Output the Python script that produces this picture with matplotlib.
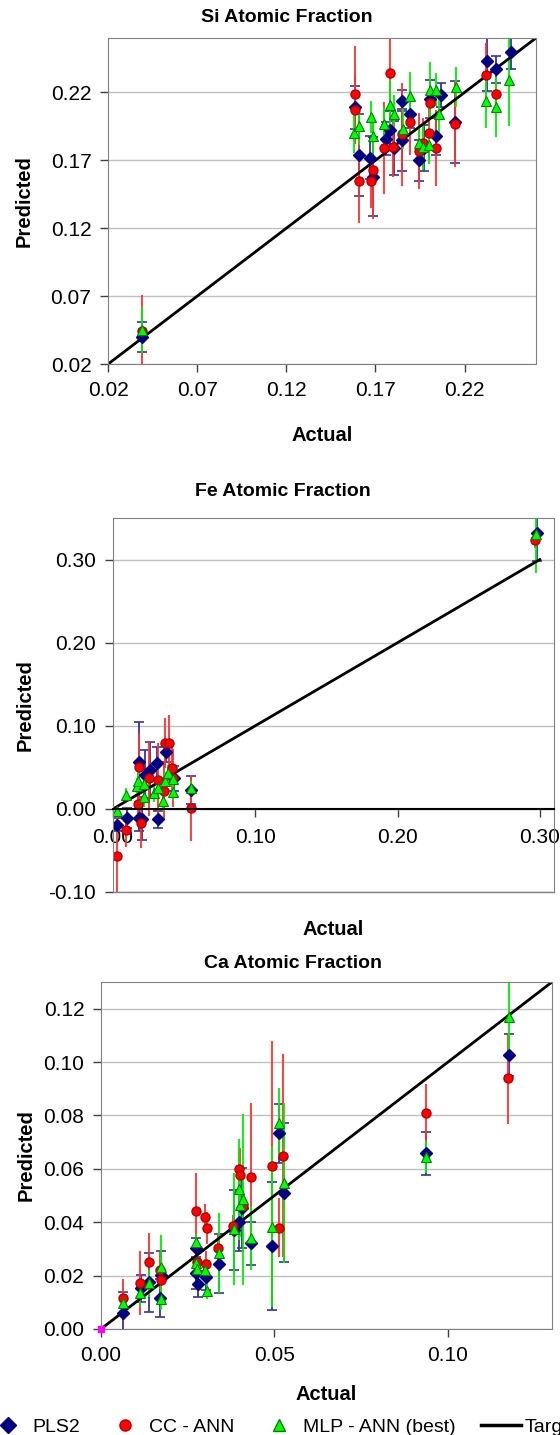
import numpy as np
import matplotlib.pyplot as plt
from matplotlib.lines import Line2D

plt.rcParams['font.family'] = ['Liberation Sans', 'DejaVu Sans']
plt.rcParams['axes.unicode_minus'] = False

#%%---------------------------------------------------------------- Si
si_pls_x = [0.039, 0.1587, 0.1606, 0.1672, 0.1685, 0.1760, 0.1784, 0.1803, 0.1849, 0.1849,
            0.1893, 0.1943, 0.1971, 0.2005, 0.2037, 0.2065, 0.2145, 0.2323, 0.2374, 0.2458]
si_pls_y = [0.040, 0.209, 0.174, 0.172, 0.158, 0.186, 0.192, 0.179, 0.214, 0.185,
            0.204, 0.170, 0.179, 0.215, 0.188, 0.218, 0.198, 0.243, 0.237, 0.250]
si_pls_e = [0.011, 0.016, 0.030, 0.016, 0.029, 0.012, 0.014, 0.020, 0.008, 0.023,
            0.010, 0.015, 0.017, 0.014, 0.014, 0.009, 0.030, 0.022, 0.010, 0.013]

si_cc_x = [0.039, 0.1587, 0.1584, 0.1606, 0.1675, 0.1685, 0.1746, 0.1784, 0.1799, 0.1849,
           0.1896, 0.1943, 0.1967, 0.1999, 0.2005, 0.2037, 0.2145, 0.2318, 0.2374]
si_cc_y = [0.044, 0.219, 0.207, 0.155, 0.155, 0.163, 0.179, 0.234, 0.180, 0.189,
           0.198, 0.177, 0.183, 0.190, 0.212, 0.179, 0.197, 0.233, 0.219]
si_cc_e = [0.027, 0.035, 0.025, 0.031, 0.020, 0.036, 0.034, 0.030, 0.022, 0.038,
           0.024, 0.028, 0.018, 0.020, 0.012, 0.028, 0.032, 0.023, 0.010]

si_mlp_x = [0.039, 0.1582, 0.1606, 0.1675, 0.1685, 0.1750, 0.1784, 0.1803, 0.1855, 0.1896,
            0.1943, 0.1967, 0.1999, 0.2005, 0.2037, 0.2059, 0.2149, 0.2318, 0.2374, 0.2449]
si_mlp_y = [0.045, 0.190, 0.195, 0.202, 0.188, 0.197, 0.211, 0.204, 0.193, 0.217,
            0.183, 0.180, 0.181, 0.222, 0.222, 0.204, 0.224, 0.214, 0.209, 0.229]
si_mlp_e = [0.017, 0.015, 0.014, 0.012, 0.015, 0.012, 0.018, 0.014, 0.015, 0.018,
            0.012, 0.017, 0.014, 0.020, 0.012, 0.015, 0.015, 0.020, 0.022, 0.034]

#%%---------------------------------------------------------------- Fe
fe_pls_x = [0.0026, 0.0096, 0.0182, 0.0201, 0.0185, 0.0225, 0.0260, 0.0307, 0.0318, 0.0376,
            0.0431, 0.0547, 0.2978]
fe_pls_y = [-0.019, -0.0105, -0.011, -0.012, 0.056, 0.041, 0.047, 0.055, -0.0125, 0.069,
            0.037, 0.0225, 0.332]
fe_pls_e = [0.008, 0.012, 0.015, 0.026, 0.048, 0.030, 0.034, 0.020, 0.010, 0.012,
            0.015, 0.017, 0.034]

fe_cc_x = [0.0026, 0.0089, 0.0173, 0.0183, 0.0197, 0.0253, 0.0314, 0.0365, 0.0396, 0.0360,
           0.0412, 0.0424, 0.0547, 0.2966]
fe_cc_y = [-0.0566, -0.0257, 0.0057, 0.051, -0.0167, 0.037, 0.0348, 0.079, 0.079, 0.0217,
           0.0498, 0.037, 0.0008, 0.324]
fe_cc_e = [0.050, 0.020, 0.025, 0.040, 0.030, 0.045, 0.045, 0.030, 0.034, 0.035,
           0.030, 0.035, 0.040, 0.010]

fe_mlp_x = [0.0026, 0.0089, 0.0171, 0.0178, 0.022, 0.022, 0.0290, 0.0318, 0.0353, 0.0365,
            0.0388, 0.0424, 0.0424, 0.0547, 0.297]
fe_mlp_y = [-0.002, 0.017, 0.027, 0.034, 0.030, 0.014, 0.0186, 0.025, 0.0092, 0.034,
            0.043, 0.0357, 0.0209, 0.025, 0.331]
fe_mlp_e = [0.005, 0.008, 0.010, 0.010, 0.012, 0.012, 0.010, 0.010, 0.012, 0.010,
            0.010, 0.010, 0.010, 0.008, 0.047]

#%%---------------------------------------------------------------- Ca
ca_pls_x = [0.0064, 0.0114, 0.0139, 0.0174, 0.0171, 0.0275, 0.0275, 0.0280, 0.0302, 0.0340,
            0.0382, 0.0398, 0.0407, 0.0433, 0.0493, 0.0513, 0.0527, 0.0936, 0.1177]
ca_pls_y = [0.0059, 0.0152, 0.0175, 0.0202, 0.0116, 0.0302, 0.0211, 0.0169, 0.0196, 0.0245,
            0.0371, 0.0402, 0.0454, 0.0321, 0.0311, 0.0733, 0.0511, 0.0658, 0.1026]
ca_pls_e = [0.008, 0.005, 0.011, 0.009, 0.007, 0.004, 0.006, 0.005, 0.005, 0.011,
            0.015, 0.011, 0.015, 0.008, 0.024, 0.011, 0.026, 0.008, 0.008]

ca_cc_x = [0.0064, 0.0112, 0.0138, 0.0171, 0.0174, 0.0275, 0.0277, 0.0299, 0.0306, 0.0302,
           0.0337, 0.0380, 0.0397, 0.0400, 0.0409, 0.0433, 0.0492, 0.0513, 0.0524, 0.0936,
           0.1172]
ca_cc_y = [0.0117, 0.0171, 0.0250, 0.0221, 0.0184, 0.0443, 0.0252, 0.0418, 0.0380, 0.0243,
           0.0304, 0.0387, 0.0599, 0.0577, 0.0461, 0.0568, 0.0610, 0.0379, 0.0649, 0.0808,
           0.0939]
ca_cc_e = [0.007, 0.012, 0.011, 0.007, 0.007, 0.014, 0.008, 0.005, 0.006, 0.005,
           0.005, 0.004, 0.008, 0.010, 0.005, 0.028, 0.047, 0.011, 0.038, 0.011,
           0.017]

ca_mlp_x = [0.0064, 0.0112, 0.0138, 0.0174, 0.0172, 0.0275, 0.0275, 0.0278, 0.0299, 0.0306,
            0.0340, 0.0383, 0.0397, 0.0401, 0.0409, 0.0433, 0.0493, 0.0513, 0.0526, 0.0936,
            0.1177]
ca_mlp_y = [0.0096, 0.0136, 0.0171, 0.0231, 0.0111, 0.0327, 0.0246, 0.0224, 0.0221, 0.0144,
            0.0283, 0.0374, 0.0523, 0.0464, 0.0486, 0.0340, 0.0383, 0.0773, 0.0548, 0.0643,
            0.1167]
ca_mlp_e = [0.004, 0.005, 0.005, 0.012, 0.004, 0.003, 0.004, 0.004, 0.004, 0.003,
            0.015, 0.021, 0.019, 0.012, 0.032, 0.012, 0.030, 0.013, 0.030, 0.006,
            0.015]

nombres = ['PLS2', 'CC - ANN', 'MLP - ANN (best)', 'Target']

#%%----------------------------------------------------------------------------
def serie(ax, x, y, e, tipo):
    if tipo == 0:
        ax.errorbar(x, y, yerr=e, fmt='D', ms=6.5, mfc='#000080', mec='#000080',
                    ecolor='#33339a', elinewidth=1.3, capsize=3.5, capthick=1.2)
    elif tipo == 1:
        ax.errorbar(x, y, yerr=e, fmt='o', ms=6.5, mfc='#ff0000', mec='#b00000',
                    ecolor='#ff3030', elinewidth=1.3, capsize=0)
    else:
        ax.errorbar(x, y, yerr=e, fmt='^', ms=7.5, mfc='#00ff00', mec='#008000',
                    mew=0.8, ecolor='#00ee00', elinewidth=1.3, capsize=0)


def panel(ax, datos, xlim, ylim, xt, yt, linea):
    for k, (x, y, e) in enumerate(datos):
        serie(ax, x, y, e, k)
    ax.plot(linea, linea, color='black', lw=2)
    ax.set_xlim(xlim)
    ax.set_ylim(ylim)
    ax.set_xticks(xt)
    ax.set_yticks(yt)
    ax.xaxis.set_major_formatter('{x:.2f}')
    ax.yaxis.set_major_formatter('{x:.2f}')
    ax.yaxis.grid(True, color='#c0c0c0', lw=1)
    ax.set_axisbelow(True)
    for s in ax.spines.values():
        s.set_color('#808080')
    ax.tick_params(direction='out', length=6, width=1, labelsize=15, pad=6, color='#404040')
    ax.set_xlabel('Actual', fontsize=14.5, fontweight='bold')
    ax.set_ylabel('Predicted', fontsize=14.5, fontweight='bold')


fig = plt.figure(figsize=(5.6, 14.35), dpi=100)

ax1 = fig.add_axes([0.193, 0.7463, 0.764, 0.2272])
panel(ax1, [(si_pls_x, si_pls_y, si_pls_e), (si_cc_x, si_cc_y, si_cc_e),
            (si_mlp_x, si_mlp_y, si_mlp_e)],
      (0.02, 0.26), (0.02, 0.26), [0.02, 0.07, 0.12, 0.17, 0.22],
      [0.02, 0.07, 0.12, 0.17, 0.22], [0.02, 0.26])
ax1.xaxis.set_label_coords(0.5, -0.19)
ax1.yaxis.set_label_coords(-0.175, 0.5)

ax2 = fig.add_axes([0.2018, 0.3784, 0.7875, 0.2606])
panel(ax2, [(fe_pls_x, fe_pls_y, fe_pls_e), (fe_cc_x, fe_cc_y, fe_cc_e),
            (fe_mlp_x, fe_mlp_y, fe_mlp_e)],
      (0.0, 0.31), (-0.10, 0.35), [0.0, 0.10, 0.20, 0.30],
      [-0.10, 0.0, 0.10, 0.20, 0.30], [0.0, 0.30])
ax2.spines['bottom'].set_position(('data', 0))
ax2.spines['bottom'].set_color('black')
ax2.spines['bottom'].set_linewidth(1.5)
ax2.axhline(-0.10, color='#808080', lw=1, clip_on=False)
ax2.tick_params(axis='x', pad=8)
ax2.xaxis.set_label_coords(0.5, -0.075)
ax2.yaxis.set_label_coords(-0.177, 0.5)

ax3 = fig.add_axes([0.1804, 0.0739, 0.8054, 0.2418])
panel(ax3, [(ca_pls_x, ca_pls_y, ca_pls_e), (ca_cc_x, ca_cc_y, ca_cc_e),
            (ca_mlp_x, ca_mlp_y, ca_mlp_e)],
      (0.0, 0.13), (0.0, 0.13), [0.0, 0.05, 0.10],
      [0.0, 0.02, 0.04, 0.06, 0.08, 0.10, 0.12], [0.0, 0.13])
ax3.plot([0], [0], 's', ms=5, color='#ff00ff', clip_on=False, zorder=5)
ax3.xaxis.set_label_coords(0.5, -0.161)
ax3.yaxis.set_label_coords(-0.146, 0.5)

fig.text(287/560, 1 - 17/1435, 'Si Atomic Fraction', ha='center', va='center',
         fontsize=14, fontweight='bold')
fig.text(283/560, 1 - 492/1435, 'Fe Atomic Fraction', ha='center', va='center',
         fontsize=14, fontweight='bold')
fig.text(293/560, 1 - 963/1435, 'Ca Atomic Fraction', ha='center', va='center',
         fontsize=14, fontweight='bold')

manejadores = [
    Line2D([], [], ls='none', marker='D', ms=8, mfc='#000080', mec='#000080'),
    Line2D([], [], ls='none', marker='o', ms=8, mfc='#ff0000', mec='#b00000'),
    Line2D([], [], ls='none', marker='^', ms=9, mfc='#00ff00', mec='#008000'),
    Line2D([], [], color='black', lw=2.5),
]
fig.legend(manejadores, nombres, loc='center left', bbox_to_anchor=(-0.021, 0.0055),
           ncol=4, frameon=False, fontsize=14, handlelength=2.05, handletextpad=0.2,
           columnspacing=1.3, borderpad=0, borderaxespad=0)

fig.savefig('out.png', dpi=100)
